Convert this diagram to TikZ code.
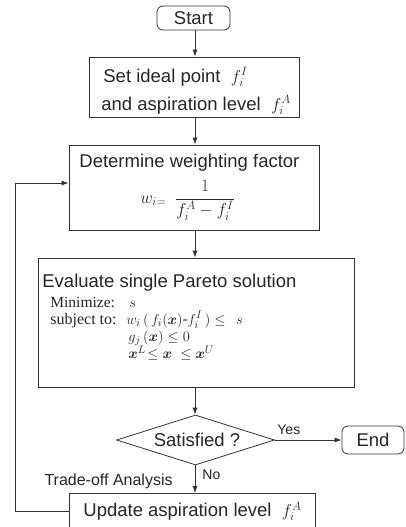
\documentclass[tikz,border=0pt]{standalone}
\usepackage{amsmath}
\usepackage{bm}
\usepackage{fontspec}
\setmainfont{Liberation Sans}
\newfontfamily\tms{Liberation Serif}
\usetikzlibrary{arrows.meta,shapes.geometric}
\begin{document}
\begin{tikzpicture}[x=1pt,y=-1pt,
  line width=0.8pt,
  every node/.style={text=black!85},
  box/.style={draw=black!80,rectangle,inner sep=0pt},
  term/.style={draw=black!80,rectangle,rounded corners=6pt,inner sep=0pt},
  dec/.style={draw=black!80,diamond,aspect=3.16,inner sep=0pt},
  txt/.style={inner sep=0pt,font=\fontsize{18.5}{22}\selectfont},
  sml/.style={inner sep=0pt,font=\fontsize{14}{16}\selectfont},
  srf/.style={inner sep=0pt,font=\fontsize{15.5}{17}\selectfont\tms},
  frm/.style={inner sep=0pt,font=\fontsize{15}{17}\selectfont},
  arr/.style={draw=black!80,-{Latex[length=7pt,width=5pt]}}]
\useasboundingbox (0,0) rectangle (405,527);
\clip (0,0) rectangle (405,527);
% boxes
\node[term,minimum width=73pt,minimum height=24pt] (start) at (193.5,18) {};
\node[txt] (tstart) at (193.5,18) {Start};
\node[box,minimum width=210pt,minimum height=60pt] (setbox) at (194,87) {};
\node[txt,anchor=base west] (ts1) at (103,82) {Set ideal point\; $f_i^I$};
\node[txt,anchor=base west] (ts2) at (101,110) {and aspiration level\; $f_i^A$};
\node[box,minimum width=250pt,minimum height=85pt] (detbox) at (194,187.5) {};
\node[txt,anchor=base west] (td1) at (79,167) {Determine weighting factor};
\node[inner sep=0pt,anchor=base west,font=\fontsize{17}{19}\selectfont] (tw) at (140,203) {$w_{i=}$};
\node[inner sep=0pt,anchor=base,font=\fontsize{17}{19}\selectfont] (tfr) at (205,203.3) {$\dfrac{1}{f_i^A-f_i^I}$};
\node[box,minimum width=316pt,minimum height=129pt] (evalbox) at (196,322.5) {};
\node[txt,anchor=base west] (te1) at (42,287) {Evaluate single Pareto solution};
\node[srf,anchor=base west] (te2) at (50,307.5) {Minimize:};
\node[frm,anchor=base west] (te2b) at (129,307.5) {$s$};
\node[inner sep=0pt,anchor=base west,font=\fontsize{16}{18}\selectfont\tms] (te3) at (50,324) {subject to:};
\node[frm,anchor=base west] (te3b) at (126,324) {$w_i\,(\,f_i(\bm{x})\text{-}f_i^I\,)\le\ \,s$};
\node[frm,anchor=base west] (te4) at (128,341) {$g_j\,(\bm{x})\le 0$};
\node[frm,anchor=base west] (te5) at (128,358.5) {$\bm{x}^L\!\le \bm{x}\ \le \bm{x}^U$};
\node[dec,minimum width=158pt,minimum height=50pt] (dia) at (195.5,440) {};
\node[txt] (tdia) at (197,440) {Satisfied ?};
\node[term,minimum width=62pt,minimum height=28pt] (endbox) at (373,440) {};
\node[txt] (tend) at (373,440) {End};
\node[box,minimum width=246pt,minimum height=36pt] (updbox) at (192,511.5) {};
\node[txt,anchor=base west] (tu) at (83,516.5) {Update aspiration level\; $f_i^A$};
% labels
\node[sml,anchor=base west] (lyes) at (277,434) {Yes};
\node[sml,anchor=base west] (lno) at (202,479) {No};
\node[inner sep=0pt,anchor=base east,font=\fontsize{16}{18}\selectfont] (ltr) at (173,485) {Trade-off Analysis};
% connectors
\coordinate (ax) at (195,0);
\coordinate (lt) at (15,183);
\draw[arr] (start.south -| ax) -- (setbox.north -| ax);
\draw[arr] (setbox.south -| ax) -- (detbox.north -| ax);
\draw[arr] (detbox.south -| ax) -- (evalbox.north -| ax);
\draw[arr] (evalbox.south -| ax) -- (dia.north -| ax);
\draw[arr] (dia.south -| ax) -- (updbox.north -| ax);
\draw[arr] (dia.east) -- (endbox.west);
\draw[arr] (updbox.west) -| (lt) -- (lt -| detbox.west);
\end{tikzpicture}
\end{document}
